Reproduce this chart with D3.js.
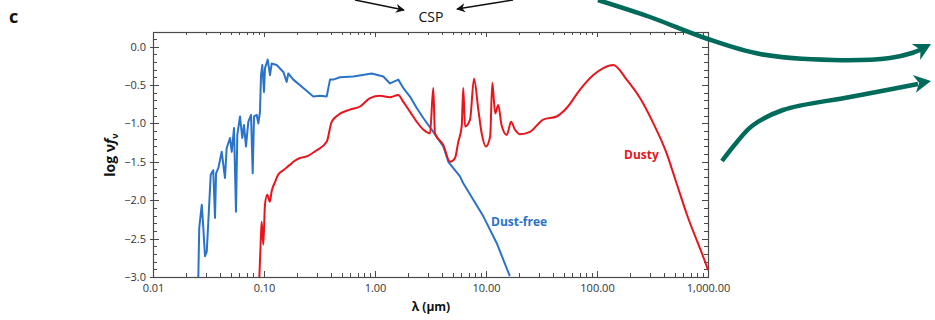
<!DOCTYPE html>
<html>
<head>
<meta charset="utf-8">
<script src="https://cdn.jsdelivr.net/npm/d3@7"></script>
<style>
body{margin:0;background:#fff;}
svg text{font-family:"Open Sans","Noto Sans",sans-serif;}
</style>
</head>
<body>
<svg id="chart" width="935" height="320"></svg>
<script>
// wavelength in micron, flux as log(nu f_nu)
var dustFreeLambda=[0.0256,0.0261,0.0275,0.0284,0.0294,0.0305,0.0315,0.0331,0.0349,0.0362,0.0370,0.0388,0.0416,0.0445,0.0461,0.0494,0.0512,0.0537,0.0559,0.0575,0.0608,0.0637,0.0660,0.0688,0.0722,0.0764,0.0791,0.0813,0.0860,0.0889,0.0920,0.0940,0.0965,0.1000,0.1021,0.1080,0.1132,0.1173,0.1301,0.1493,0.1601,0.1655,0.1837,0.2260,0.2780,0.3196,0.3671,0.3932,0.4210,0.4838,0.6374,0.9339,1.188,1.365,1.621,1.799,2.067,2.375,2.723,3.351,4.124,4.575,5.83,6.24,9.46,12.5,16.4];
var dustFreeFlux=[-3.00,-2.36,-2.06,-2.36,-2.73,-2.67,-2.28,-1.67,-1.61,-2.23,-1.65,-1.58,-1.37,-1.71,-1.32,-1.19,-1.37,-1.06,-2.15,-1.15,-0.91,-1.19,-1.02,-1.30,-0.98,-0.89,-1.65,-0.91,-0.89,-1.00,-0.85,-0.37,-0.24,-0.59,-0.28,-0.17,-0.37,-0.22,-0.24,-0.33,-0.46,-0.35,-0.43,-0.54,-0.65,-0.64,-0.65,-0.43,-0.43,-0.40,-0.39,-0.35,-0.39,-0.48,-0.43,-0.54,-0.65,-0.80,-0.93,-1.11,-1.30,-1.50,-1.69,-1.78,-2.21,-2.56,-2.99];

var dustyLambda=[0.0908,0.0934,0.0953,0.0986,0.102,0.107,0.113,0.117,0.126,0.134,0.149,0.171,0.184,0.211,0.242,0.298,0.367,0.407,0.467,0.595,0.733,0.902,1.11,1.36,1.62,1.80,2.07,2.38,2.72,3.13,3.35,3.47,4.12,4.74,5.26,5.63,6.04,6.24,6.47,7.18,7.80,8.53,9.14,10.0,10.9,11.4,12.1,12.9,13.8,15.4,16.8,18.2,20.2,24.9,32.8,43.3,53.3,70.3,92.7,114,140,185,244,322,424,505,643,973,1000];
var dustyFlux=[-3.00,-2.54,-2.28,-2.58,-2.06,-1.93,-2.02,-1.89,-1.76,-1.67,-1.61,-1.54,-1.50,-1.45,-1.43,-1.35,-1.24,-0.98,-0.89,-0.82,-0.78,-0.67,-0.64,-0.66,-0.63,-0.72,-0.85,-0.98,-1.08,-1.13,-0.54,-1.13,-1.28,-1.50,-1.45,-1.24,-1.04,-0.54,-1.04,-0.95,-0.42,-0.82,-1.13,-1.30,-1.17,-0.47,-0.87,-0.76,-1.02,-1.15,-0.98,-1.08,-1.14,-1.11,-0.95,-0.91,-0.80,-0.56,-0.37,-0.28,-0.24,-0.43,-0.67,-1.00,-1.39,-1.72,-2.18,-2.86,-2.91];

var xTicks=[0.01,0.1,1,10,100,1000];
var yTicks=[0,-0.5,-1,-1.5,-2,-2.5,-3];

var svg=d3.select('#chart');
var x=d3.scaleLog().domain([0.01,1000]).range([153,708]);
var y=d3.scaleLinear().domain([-3,0.19]).range([277,32]);
var axisColor='#4a4a4a';

// minor tick values
var xMinor=[];
for (var e=-2; e<3; e++) {
    for (var k=2; k<10; k++) xMinor.push(k*Math.pow(10,e));
}
var yMinor=d3.range(-30,2).map(function(d){return d/10;});

var g=svg.append('g');

// ticks
function tick(x1,y1,x2,y2) {
    g.append('line').attr('x1',x1).attr('y1',y1).attr('x2',x2).attr('y2',y2)
        .attr('stroke',axisColor).attr('stroke-width',1);
}
xMinor.forEach(function(v){
    var px=Math.round(x(v))+0.5;
    tick(px,277,px,273);
    tick(px,32,px,35);
});
xTicks.forEach(function(v){
    var px=Math.round(x(v))+0.5;
    tick(px,277,px,271);
    tick(px,32,px,37);
});
yMinor.forEach(function(v){
    var py=Math.round(y(v))+0.5;
    tick(153,py,157,py);
    tick(708,py,704,py);
});
yTicks.forEach(function(v){
    var py=Math.round(y(v))+0.5;
    tick(150,py,159,py);
    tick(708,py,702,py);
});

// frame
g.append('rect').attr('x',153.5).attr('y',32.5).attr('width',555).attr('height',245)
    .attr('fill','none').attr('stroke',axisColor).attr('stroke-width',1.2);

// axes labels via d3 axes (ticks drawn above)
var xAxis=d3.axisBottom(x).tickValues(xTicks).tickFormat(d3.format(',.2f')).tickSize(0).tickPadding(7);
var xg=svg.append('g').attr('transform','translate(0,277)').call(xAxis);
xg.select('.domain').remove();
xg.selectAll('text').attr('fill','#333').style('font-size','11px');

var yAxis=d3.axisLeft(y).tickValues(yTicks).tickFormat(d3.format('.1f')).tickSize(0).tickPadding(5);
var yg=svg.append('g').attr('transform','translate(151,0)').call(yAxis);
yg.select('.domain').remove();
yg.selectAll('text').attr('fill','#333').style('font-size','11px');

// series
var clip=svg.append('clipPath').attr('id','plotclip').append('rect')
    .attr('x',153).attr('y',32).attr('width',556).attr('height',245);

function series(lams,vals,color,curve) {
    var data=lams.map(function(l,i){return {x:l,y:vals[i]};});
    var line=d3.line()
        .x(function(d){return x(d.x);})
        .y(function(d){return y(d.y);})
        .curve(curve);
    svg.append('path').attr('d',line(data)).attr('clip-path','url(#plotclip)')
        .attr('fill','none').attr('stroke',color).attr('stroke-width',2)
        .attr('stroke-linejoin','round');
}
series(dustFreeLambda,dustFreeFlux,'#2a73c9',d3.curveLinear);
series(dustyLambda,dustyFlux,'#e8151d',d3.curveMonotoneX);

svg.append('text').attr('x',491).attr('y',226).attr('fill','#2a73c9')
    .style('font-size','12px').style('font-weight','bold').text('Dust-free');
svg.append('text').attr('x',624).attr('y',159).attr('fill','#e8151d')
    .style('font-size','12px').style('font-weight','bold').text('Dusty');

// axis titles
svg.append('text').attr('x',431).attr('y',311).attr('text-anchor','middle')
    .style('font-size','12px').style('font-weight','bold').attr('fill','#111').text('λ (µm)');
var yl=svg.append('text').attr('transform','translate(115,155) rotate(-90)').attr('text-anchor','middle')
    .style('font-size','14px').style('font-weight','bold').attr('fill','#111');
yl.append('tspan').text('log ν');
yl.append('tspan').style('font-style','italic').text('f');
yl.append('tspan').attr('dy',3).style('font-size','9px').text('ν');

// panel letter
svg.append('text').attr('x',9).attr('y',23).style('font-size','18px').style('font-weight','bold')
    .attr('fill','#111').text('c');

// CSP annotation
svg.append('text').attr('x',431).attr('y',22).attr('text-anchor','middle')
    .style('font-size','14px').attr('fill','#111').text('CSP');
var defs=svg.append('defs');
defs.append('marker').attr('id','ah').attr('viewBox','0 0 10 10').attr('refX',9).attr('refY',5)
    .attr('markerWidth',9).attr('markerHeight',9).attr('markerUnits','userSpaceOnUse').attr('orient','auto')
    .append('path').attr('d','M0,0 L10,5 L0,10 L3,5 Z').attr('fill','#111');
svg.append('line').attr('x1',355).attr('y1',0).attr('x2',404).attr('y2',10)
    .attr('stroke','#111').attr('stroke-width',1.5).attr('marker-end','url(#ah)');
svg.append('line').attr('x1',513).attr('y1',0).attr('x2',457).attr('y2',9)
    .attr('stroke','#111').attr('stroke-width',1.5).attr('marker-end','url(#ah)');

// green flow arrows
var teal='#006a5b';
var flow=d3.line().curve(d3.curveCatmullRom.alpha(0.5));
svg.append('path').attr('d',flow([[598,0],[650,17],[705,38],[760,54],[833,60],[890,58],[912,53],[922,49]]))
    .attr('fill','none').attr('stroke',teal).attr('stroke-width',4.5);
svg.append('path').attr('d',flow([[722,161],[737,142],[752,126],[783,110],[850,97],[918,84]]))
    .attr('fill','none').attr('stroke',teal).attr('stroke-width',4.5);
function head(tx,ty,ang) {
    svg.append('path').attr('d','M0,0 L-17,-9 L-12,0 L-17,9 Z')
        .attr('transform','translate('+tx+','+ty+') rotate('+ang+')').attr('fill',teal);
}
head(931,44,-28);
head(931,81,-10);
</script>
</body>
</html>
